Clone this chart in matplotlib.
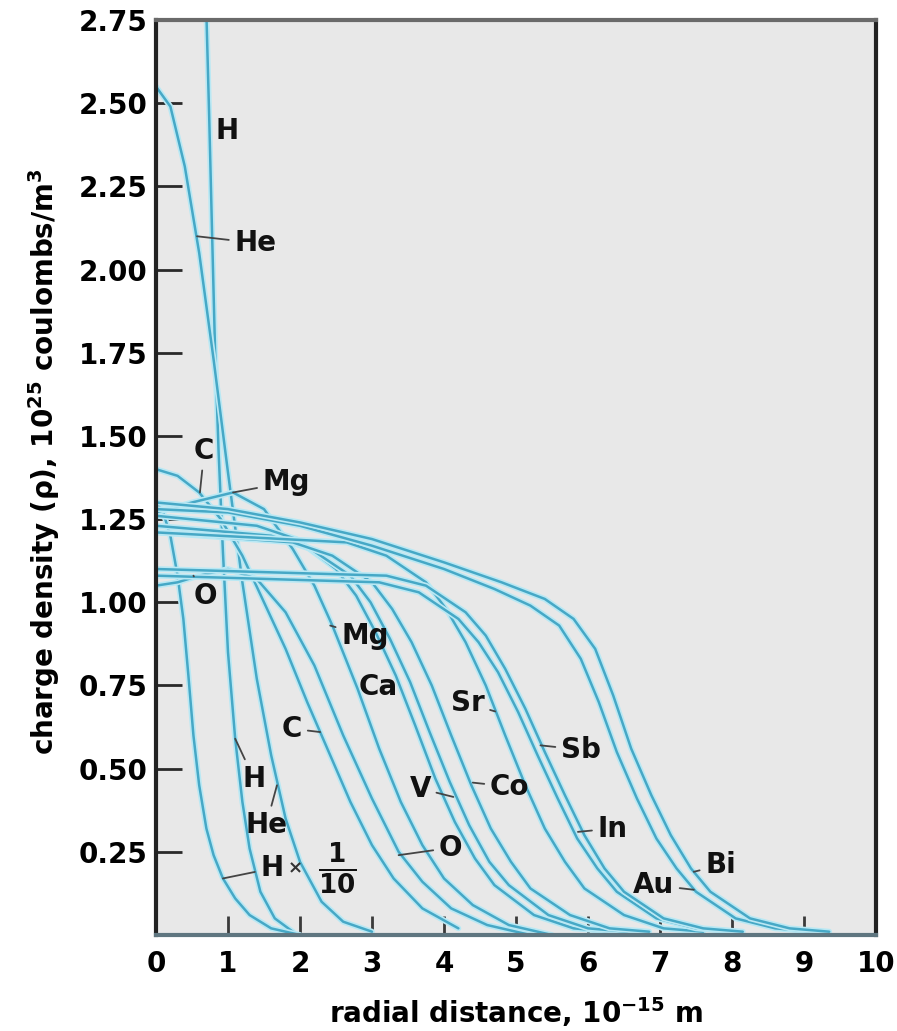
import matplotlib
matplotlib.use('Agg')
import matplotlib.pyplot as plt
import matplotlib.patheffects as pe

plt.rcParams['font.family'] = 'DejaVu Sans'
plt.rcParams['font.weight'] = 'bold'
plt.rcParams['axes.labelweight'] = 'bold'
plt.rcParams['mathtext.fontset'] = 'dejavusans'
plt.rcParams['mathtext.default'] = 'bf'

# charge density curves (r in 1e-15 m, rho in 1e25 C/m^3)
r_H = [0.69, 0.74, 0.78, 0.82, 0.87, 0.93, 1.00, 1.10, 1.20, 1.30, 1.45, 1.65, 1.90]
rho_H = [2.85, 2.45, 2.10, 1.76, 1.45, 1.15, 0.85, 0.59, 0.40, 0.26, 0.13, 0.05, 0.01]

r_H10 = [0.0, 0.1, 0.2, 0.3, 0.38, 0.45, 0.52, 0.6, 0.7, 0.8, 0.93, 1.1, 1.3, 1.6, 2.0]
rho_H10 = [1.30, 1.27, 1.20, 1.08, 0.95, 0.78, 0.60, 0.45, 0.32, 0.24, 0.17, 0.11, 0.06, 0.02, 0.0]

r_He = [0.0, 0.2, 0.4, 0.6, 0.8, 1.0, 1.2, 1.4, 1.6, 1.8, 2.0, 2.3, 2.6, 3.0]
rho_He = [2.55, 2.49, 2.31, 2.05, 1.73, 1.39, 1.06, 0.77, 0.54, 0.35, 0.22, 0.10, 0.04, 0.01]

r_C = [0.0, 0.3, 0.6, 0.9, 1.2, 1.5, 1.8, 2.1, 2.4, 2.7, 3.0, 3.3, 3.7, 4.2]
rho_C = [1.40, 1.38, 1.33, 1.25, 1.14, 1.00, 0.86, 0.70, 0.55, 0.40, 0.27, 0.17, 0.08, 0.02]

r_O = [0.0, 0.3, 0.6, 1.0, 1.4, 1.8, 2.2, 2.6, 3.0, 3.37, 3.7, 4.1, 4.6, 5.2]
rho_O = [1.05, 1.06, 1.08, 1.10, 1.07, 0.97, 0.81, 0.60, 0.41, 0.25, 0.16, 0.08, 0.03, 0.0]

r_Mg = [0.0, 0.5, 1.07, 1.5, 1.9, 2.2, 2.45, 2.8, 3.1, 3.4, 3.7, 4.0, 4.4, 4.9, 5.5]
rho_Mg = [1.27, 1.30, 1.33, 1.28, 1.16, 1.05, 0.93, 0.74, 0.56, 0.40, 0.27, 0.17, 0.09, 0.03, 0.0]

r_Ca = [0.0, 1.4, 1.95, 2.5, 2.78, 3.05, 3.33, 3.6, 3.88, 4.15, 4.43, 4.7, 5.25, 5.8, 6.35]
rho_Ca = [1.26, 1.23, 1.19, 1.10, 1.02, 0.91, 0.78, 0.63, 0.47, 0.34, 0.23, 0.15, 0.06, 0.02, 0.01]

r_V = [0.0, 1.6, 2.15, 2.7, 2.98, 3.25, 3.53, 3.8, 4.08, 4.35, 4.63, 4.9, 5.45, 6.0, 6.55]
rho_V = [1.23, 1.20, 1.16, 1.08, 1.00, 0.89, 0.76, 0.61, 0.46, 0.33, 0.22, 0.15, 0.06, 0.02, 0.01]

r_Co = [0.0, 1.9, 2.45, 3.0, 3.28, 3.55, 3.83, 4.1, 4.38, 4.65, 4.93, 5.2, 5.75, 6.3, 6.85]
rho_Co = [1.21, 1.18, 1.14, 1.06, 0.98, 0.88, 0.75, 0.60, 0.45, 0.32, 0.22, 0.14, 0.06, 0.02, 0.01]

r_Sr = [0.0, 2.65, 3.2, 3.75, 4.03, 4.3, 4.58, 4.85, 5.13, 5.4, 5.68, 5.95, 6.5, 7.05, 7.6]
rho_Sr = [1.21, 1.18, 1.14, 1.06, 0.98, 0.88, 0.75, 0.60, 0.45, 0.32, 0.22, 0.14, 0.06, 0.02, 0.01]

r_In = [0.0, 3.1, 3.65, 4.2, 4.48, 4.75, 5.03, 5.3, 5.58, 5.85, 6.13, 6.4, 6.95, 7.5, 8.05]
rho_In = [1.08, 1.06, 1.03, 0.95, 0.88, 0.79, 0.67, 0.54, 0.41, 0.29, 0.20, 0.13, 0.05, 0.02, 0.01]

r_Sb = [0.0, 3.2, 3.75, 4.3, 4.58, 4.85, 5.13, 5.4, 5.68, 5.95, 6.23, 6.5, 7.05, 7.6, 8.15]
rho_Sb = [1.10, 1.08, 1.05, 0.97, 0.90, 0.80, 0.68, 0.55, 0.42, 0.30, 0.20, 0.13, 0.05, 0.02, 0.01]

r_Au = [0.0, 1.0, 2.0, 3.0, 4.0, 4.7, 5.2, 5.6, 5.9, 6.15, 6.4, 6.68, 6.95, 7.23, 7.5, 8.05, 8.6, 9.15]
rho_Au = [1.28, 1.27, 1.23, 1.17, 1.10, 1.04, 0.99, 0.93, 0.83, 0.70, 0.55, 0.41, 0.29, 0.20, 0.13, 0.05, 0.02, 0.01]

r_Bi = [0.0, 1.0, 2.0, 3.0, 4.0, 4.8, 5.4, 5.8, 6.1, 6.35, 6.6, 6.88, 7.15, 7.43, 7.7, 8.25, 8.8, 9.35]
rho_Bi = [1.30, 1.28, 1.24, 1.19, 1.12, 1.06, 1.01, 0.95, 0.86, 0.72, 0.56, 0.42, 0.30, 0.20, 0.13, 0.05, 0.02, 0.01]

curves = [(r_H, rho_H), (r_H10, rho_H10), (r_He, rho_He), (r_C, rho_C), (r_O, rho_O),
          (r_Mg, rho_Mg), (r_Ca, rho_Ca), (r_V, rho_V), (r_Co, rho_Co), (r_Sr, rho_Sr),
          (r_In, rho_In), (r_Sb, rho_Sb), (r_Au, rho_Au), (r_Bi, rho_Bi)]

x_ticks = [0, 1, 2, 3, 4, 5, 6, 7, 8, 9, 10]
y_ticks = [0.25, 0.50, 0.75, 1.00, 1.25, 1.50, 1.75, 2.00, 2.25, 2.50, 2.75]
y_ticklabels = ['0.25', '0.50', '0.75', '1.00', '1.25', '1.50', '1.75', '2.00', '2.25', '2.50', '2.75']

# label text, text position, point on the curve for the leader (or None)
labels = [
    ('H', (0.99, 2.415), None),
    ('He', (1.38, 2.08), (0.57, 2.10)),
    ('C', (0.67, 1.455), (0.61, 1.33)),
    ('Mg', (1.81, 1.36), (1.07, 1.33)),
    ('O', (0.68, 1.02), (0.52, 1.08)),
    ('Mg', (2.90, 0.90), (2.42, 0.93)),
    ('Ca', (3.09, 0.744), None),
    ('Sr', (4.33, 0.696), (4.71, 0.672)),
    ('Sb', (5.90, 0.557), (5.34, 0.57)),
    ('C', (1.89, 0.62), (2.28, 0.61)),
    ('V', (3.67, 0.44), (4.13, 0.415)),
    ('Co', (4.91, 0.446), (4.40, 0.458)),
    ('H', (1.36, 0.47), (1.10, 0.59)),
    ('He', (1.53, 0.33), (1.68, 0.45)),
    ('O', (4.09, 0.262), (3.37, 0.24)),
    ('In', (6.34, 0.32), (5.86, 0.31)),
    ('Au', (6.91, 0.15), (7.47, 0.136)),
    ('Bi', (7.84, 0.21), (7.47, 0.19)),
    ('H', (1.61, 0.20), (0.93, 0.17)),
]

fig = plt.figure(figsize=(8.97, 10.31), dpi=100)
ax = fig.add_axes([0.1739, 0.0931, 0.8027, 0.8875])
ax.set_facecolor('#e8e8e8')

for r, rho in curves:
    ax.plot(r, rho, color='#46a8c6', lw=1.8, solid_capstyle='round', solid_joinstyle='round',
            path_effects=[pe.Stroke(linewidth=4.2, foreground='#b9e8f4'), pe.Normal()])

for txt, (tx, ty), pt in labels:
    if pt is None:
        ax.text(tx, ty, txt, fontsize=20, ha='center', va='center', color='#111111')
    else:
        ax.annotate(txt, xy=pt, xytext=(tx, ty), fontsize=20, ha='center', va='center',
                    color='#111111',
                    arrowprops=dict(arrowstyle='-', color='#444444', lw=1.3,
                                    shrinkA=2, shrinkB=0))

# the "x 1/10" scale mark next to the last H
ax.text(1.93, 0.20, '\u00d7', fontsize=13, ha='center', va='center', color='#333333')
ax.text(2.52, 0.20, r'$\frac{1}{10}$', fontsize=27, ha='center', va='center', color='#111111')

ax.set_xlim(0, 10)
ax.set_ylim(0, 2.75)
ax.set_xticks(x_ticks)
ax.set_xticklabels([str(v) for v in x_ticks])
ax.set_yticks(y_ticks)
ax.set_yticklabels(y_ticklabels)
ax.tick_params(axis='y', direction='in', length=19, width=2, color='#2a2a2a',
               labelsize=20, pad=6)
ax.tick_params(axis='x', direction='in', length=14, width=2, color='#3a3a3a',
               labelsize=20, pad=11)

for side, col in [('left', '#222222'), ('right', '#222222'), ('top', '#6a6a6a'), ('bottom', '#5f7680')]:
    ax.spines[side].set_color(col)
    ax.spines[side].set_linewidth(3)

ax.set_xlabel(r'radial distance, 10$^{-15}$ m', fontsize=20, fontweight='bold', va='top')
ax.xaxis.set_label_coords(0.5, -0.066)
ax.set_ylabel(r'charge density ($\rho$), 10$^{25}$ coulombs/m$^{3}$', fontsize=20,
              fontweight='bold', va='center')
ax.yaxis.set_label_coords(-0.156, 0.517)

fig.savefig('out.png', dpi=100, facecolor='white')
